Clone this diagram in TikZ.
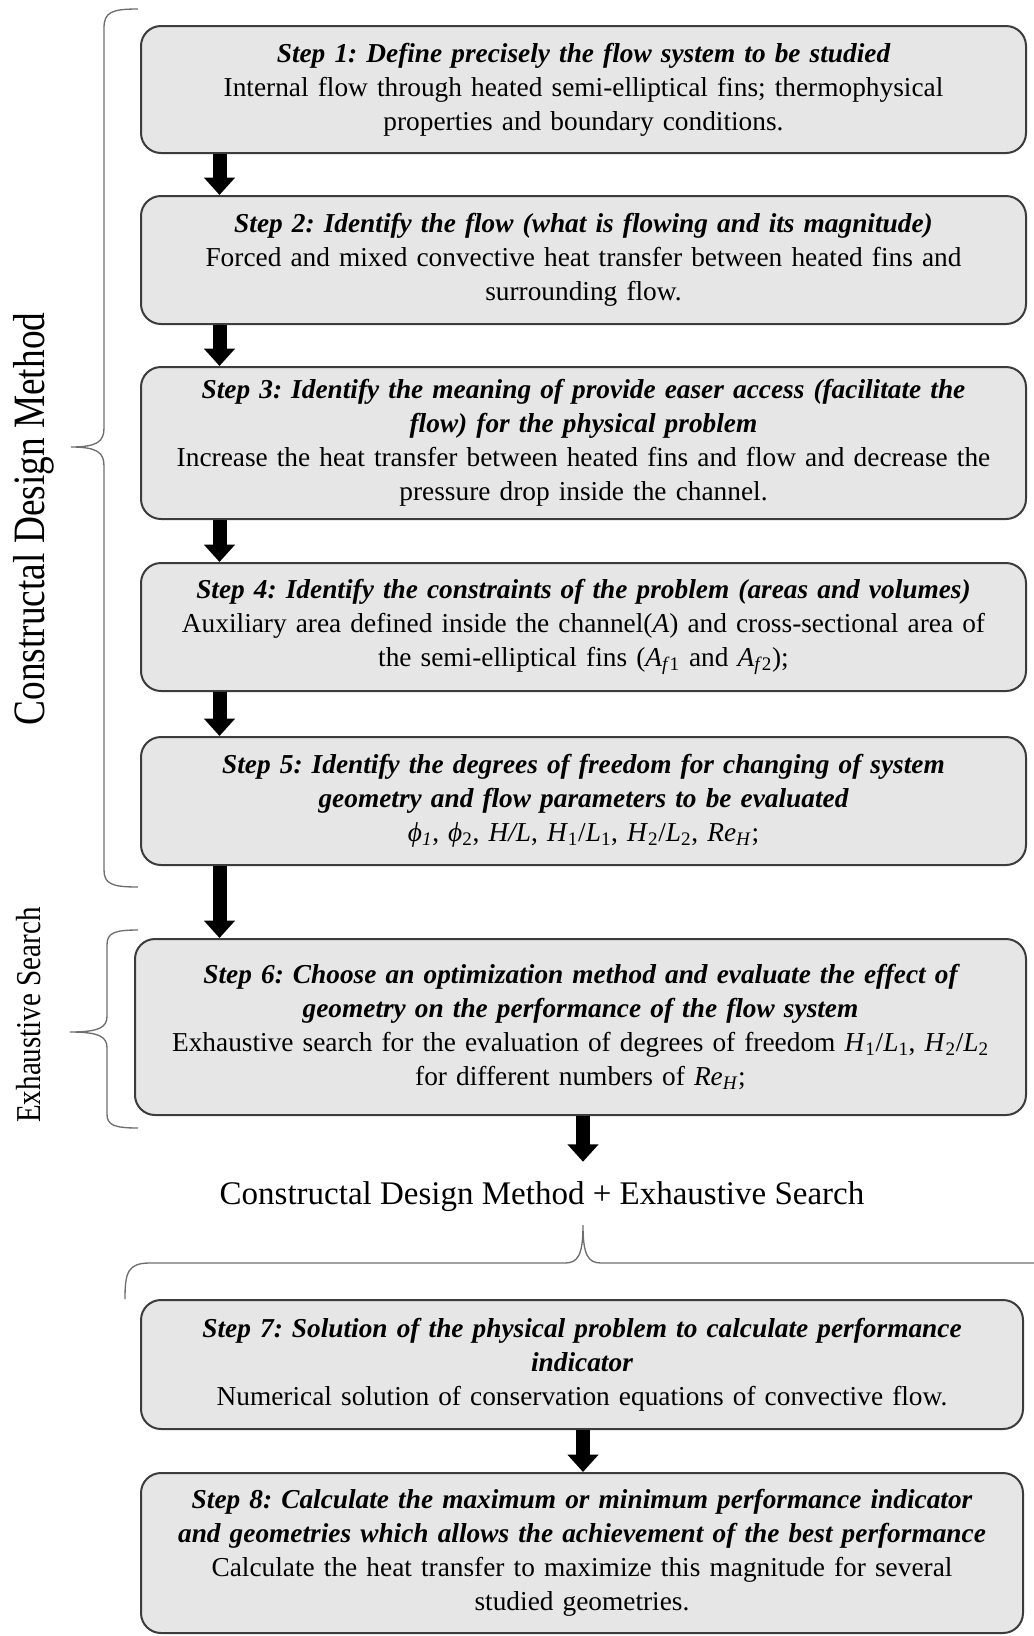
\documentclass[tikz,border=0pt]{standalone}
\usepackage{fontspec}
\setmainfont{Liberation Serif}
\usetikzlibrary{arrows.meta}
\definecolor{stepgray}{RGB}{230,230,230}
\definecolor{edgegray}{RGB}{60,60,60}
\definecolor{bracegray}{RGB}{110,110,110}
\newcommand{\ttl}[1]{{\bfseries\itshape #1}}
\newcommand{\sym}[2]{\textit{#1}\textsubscript{#2}}
\frenchspacing

\begin{document}
\begin{tikzpicture}[x=0.75pt, y=-0.75pt,
      stepbox/.style={draw=edgegray, line width=1.5pt, fill=stepgray,
                      rounded corners=15pt, align=center, inner sep=2pt,
                      text width=650pt, font=\fontsize{20.5}{25.5}\selectfont},
      flowarrow/.style={-{Triangle[width=22.5pt,length=13pt]}, line width=10.5pt},
      bracket/.style={draw=bracegray, line width=1pt},
      sidelabel/.style={rotate=90}
    ]
    \useasboundingbox (0,0) rectangle (1034,1636);

    \coordinate (colA) at (219.5,0);
    \coordinate (colB) at (583,0);

    \node[stepbox, minimum width=663.75pt, minimum height=95.25pt] (s1) at (583.5,89.5)
      {\ttl{Step 1: Define precisely the flow system to be studied}\\
       Internal flow through heated semi-elliptical fins; thermophysical\\
       properties and boundary conditions.};
    \node[stepbox, minimum width=663.75pt, minimum height=96pt] (s2) at (583.5,260)
      {\ttl{Step 2: Identify the flow (what is flowing and its magnitude)}\\
       Forced and mixed convective heat transfer between heated fins and\\
       surrounding flow.};
    \node[stepbox, minimum width=663.75pt, minimum height=114pt] (s3) at (583.5,443)
      {\ttl{Step 3: Identify the meaning of provide easer access (facilitate the\\
       flow) for the physical problem}\\
       Increase the heat transfer between heated fins and flow and decrease the\\
       pressure drop inside the channel.};
    \node[stepbox, minimum width=663.75pt, minimum height=96pt] (s4) at (583.5,627)
      {\ttl{Step 4: Identify the constraints of the problem (areas and volumes)}\\
       Auxiliary area defined inside the channel(\textit{A}) and cross-sectional area of\\
       the semi-elliptical fins (\sym{A}{\textit{f}1} and \sym{A}{\textit{f}2});};
    \node[stepbox, minimum width=663.75pt, minimum height=96pt] (s5) at (583.5,801)
      {\ttl{Step 5: Identify the degrees of freedom for changing of system\\
       geometry and flow parameters to be evaluated}\\
       \sym{ϕ}{\textit{1}}, \sym{ϕ}{2}, \textit{H/L}, \sym{H}{1}/\sym{L}{1},
       \sym{H}{2}/\sym{L}{2}, \sym{Re}{\textit{H}};};
    \node[stepbox, minimum width=668.25pt, minimum height=132pt] (s6) at (580.5,1027)
      {\ttl{Step 6: Choose an optimization method and evaluate the effect of\\
       geometry on the performance of the flow system}\\
       Exhaustive search for the evaluation of degrees of freedom \sym{H}{1}/\sym{L}{1}, \sym{H}{2}/\sym{L}{2}\\
       for different numbers of \sym{Re}{\textit{H}};};
    \node[minimum height=52.5pt, font=\fontsize{24.75}{30}\selectfont] (combo) at (542,1197)
      {Constructal Design Method + Exhaustive Search};
    \node[stepbox, minimum width=661.5pt, minimum height=96.75pt] (s7) at (582,1364.5)
      {\ttl{Step 7: Solution of the physical problem to calculate performance\\
       indicator}\\
       Numerical solution of conservation equations of convective flow.};
    \node[stepbox, minimum width=661.5pt, minimum height=120pt] (s8) at (582,1553)
      {\ttl{Step 8: Calculate the maximum or minimum performance indicator\\
       and geometries which allows the achievement of the best performance}\\
       Calculate the heat transfer to maximize this magnitude for several\\
       studied geometries.};

    \foreach \a/\b in {s1/s2, s2/s3, s3/s4, s4/s5, s5/s6}
      \draw[flowarrow] (\a.south -| colA) -- (\b.north -| colA);
    \draw[flowarrow] (s6.south -| colB) -- (combo.north -| colB);
    \draw[flowarrow] (s7.south -| colB) -- (s8.north -| colB);

    % braces
    \draw[bracket] (138,9) .. controls (112,9) and (104,12) .. (104,28) -- (104,428)
      .. controls (104,441) and (98,447) .. (71,447) .. controls (98,447) and (104,453) .. (104,466)
      -- (104,870) .. controls (104,884) and (112,887) .. (138,887);
    \draw[bracket] (138,930) .. controls (114,930) and (107,933) .. (107,945) -- (107,1016)
      .. controls (107,1027) and (100,1032) .. (70,1032) .. controls (100,1032) and (107,1037) .. (107,1048)
      -- (107,1114) .. controls (107,1125) and (114,1128) .. (138,1128);
    \draw[bracket] (125,1299) .. controls (125,1272) and (128,1263) .. (150,1263) -- (565,1263)
      .. controls (578,1263) and (583,1255) .. (583,1225) .. controls (583,1255) and (588,1263) .. (601,1263)
      -- (1034,1263);

    \node[sidelabel, font=\fontsize{28}{32}\selectfont] (cdmlabel) at (34,519)
      {\scalebox{1}[1.2]{Constructal Design Method}};
    \node[sidelabel, font=\fontsize{21.8}{26}\selectfont] (eslabel) at (29,1015)
      {\scalebox{1}[1.2]{Exhaustive Search}};
\end{tikzpicture}
\end{document}
